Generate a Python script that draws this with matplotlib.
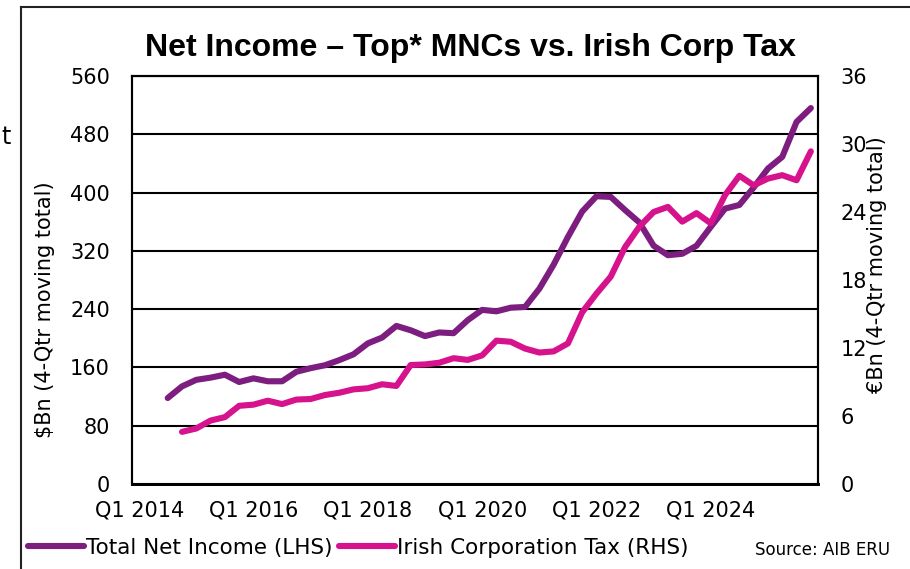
import numpy as np
import matplotlib.pyplot as plt
from matplotlib.lines import Line2D

# quarterly categories, Q1 2014 .. Q4 2025
quarters = [f"Q{q} {y}" for y in range(2014, 2026) for q in range(1, 5)]

# Total net income of top MNCs, $bn, 4-quarter moving total (LHS)
net_income = [np.nan, np.nan, 118, 134, 143, 146, 150, 140,
              145, 141, 141, 154, 159, 163, 170, 178,
              193, 201, 217, 211, 203, 208, 207, 225,
              239, 237, 242, 243, 268, 301, 339, 374,
              395, 394, 376, 359, 327, 314, 316, 327,
              353, 378, 383, 407, 433, 449, 497, 516]

# Irish corporation tax receipts, EUR bn, 4-quarter moving total (RHS)
corp_tax = [np.nan, np.nan, np.nan, 4.6, 4.9, 5.6, 5.9, 6.9,
            7.0, 7.35, 7.05, 7.45, 7.5, 7.85, 8.05, 8.35,
            8.45, 8.8, 8.65, 10.5, 10.55, 10.7, 11.1, 10.95,
            11.35, 12.65, 12.55, 11.95, 11.6, 11.7, 12.4, 15.15,
            16.8, 18.3, 20.9, 22.7, 24.0, 24.45, 23.15, 23.9,
            23.0, 25.5, 27.2, 26.35, 26.95, 27.25, 26.8, 29.35]

purple = '#7d1d80'
pink = '#d6128c'
x = np.arange(len(quarters))

plt.rcParams['font.family'] = ['DejaVu Sans']

fig = plt.figure(figsize=(9.1, 5.69), dpi=100)
ax = fig.add_axes([132 / 910, 85 / 569, 686 / 910, 408 / 569])

l1, = ax.plot(x, net_income, color=purple, lw=4.4,
              solid_capstyle='round', solid_joinstyle='round')
ax.set_ylim(0, 560)
ax.set_yticks(np.arange(0, 561, 80))
ax.set_xlim(-0.5, len(quarters) - 0.5)
ax.set_xticks(x[::8][:6])
ax.set_xticklabels(quarters[::8][:6])
ax.yaxis.grid(True, color='black', lw=1.5)
ax.set_axisbelow(True)

ax2 = ax.twinx()
l2, = ax2.plot(x, corp_tax, color=pink, lw=4.4,
               solid_capstyle='round', solid_joinstyle='round')
ax2.set_ylim(0, 36)
ax2.set_yticks(np.arange(0, 37, 6))

for a in (ax, ax2):
    for s in a.spines.values():
        s.set_color('black')
        s.set_linewidth(1.5)
    a.spines['bottom'].set_linewidth(2)
    a.tick_params(length=0, labelsize=15)
ax.tick_params(axis='y', pad=16)
ax.tick_params(axis='x', pad=12)
ax2.tick_params(axis='y', pad=16)

# axis titles
fig.text(45 / 910, 1 - 310 / 569, '\\$Bn (4-Qtr moving total)', rotation=90,
         ha='center', va='center', fontsize=15)
fig.text(877 / 910, 1 - 265 / 569, '€Bn (4-Qtr moving total)', rotation=90,
         ha='center', va='center', fontsize=15)

fig.text(470 / 910, 1 - 48 / 569, 'Net Income – Top* MNCs vs. Irish Corp Tax',
         ha='center', va='center', fontsize=23, fontweight='bold',
         family=['Liberation Sans', 'DejaVu Sans'])

fig.legend([l1, l2], ['Total Net Income (LHS)', 'Irish Corporation Tax (RHS)'],
           loc='center left', bbox_to_anchor=(28 / 910, 1 - 548 / 569),
           ncol=2, frameon=False, fontsize=15.5, handlelength=2.6,
           handletextpad=0.1, columnspacing=0.3, borderaxespad=0, borderpad=0)
fig.text(890 / 910, 1 - 550 / 569, 'Source: AIB ERU', ha='right', va='center',
         fontsize=12)

# slide frame and neighbouring text
fig.add_artist(Line2D([21 / 910, 21 / 910], [0, 1 - 7 / 569], color='#222222', lw=1.5))
fig.add_artist(Line2D([21 / 910, 1], [1 - 7 / 569, 1 - 7 / 569], color='#222222', lw=1.5))
fig.text(1 / 910, 1 - 137 / 569, 't', ha='left', va='center', fontsize=17)

fig.savefig('out.png', dpi=100)
